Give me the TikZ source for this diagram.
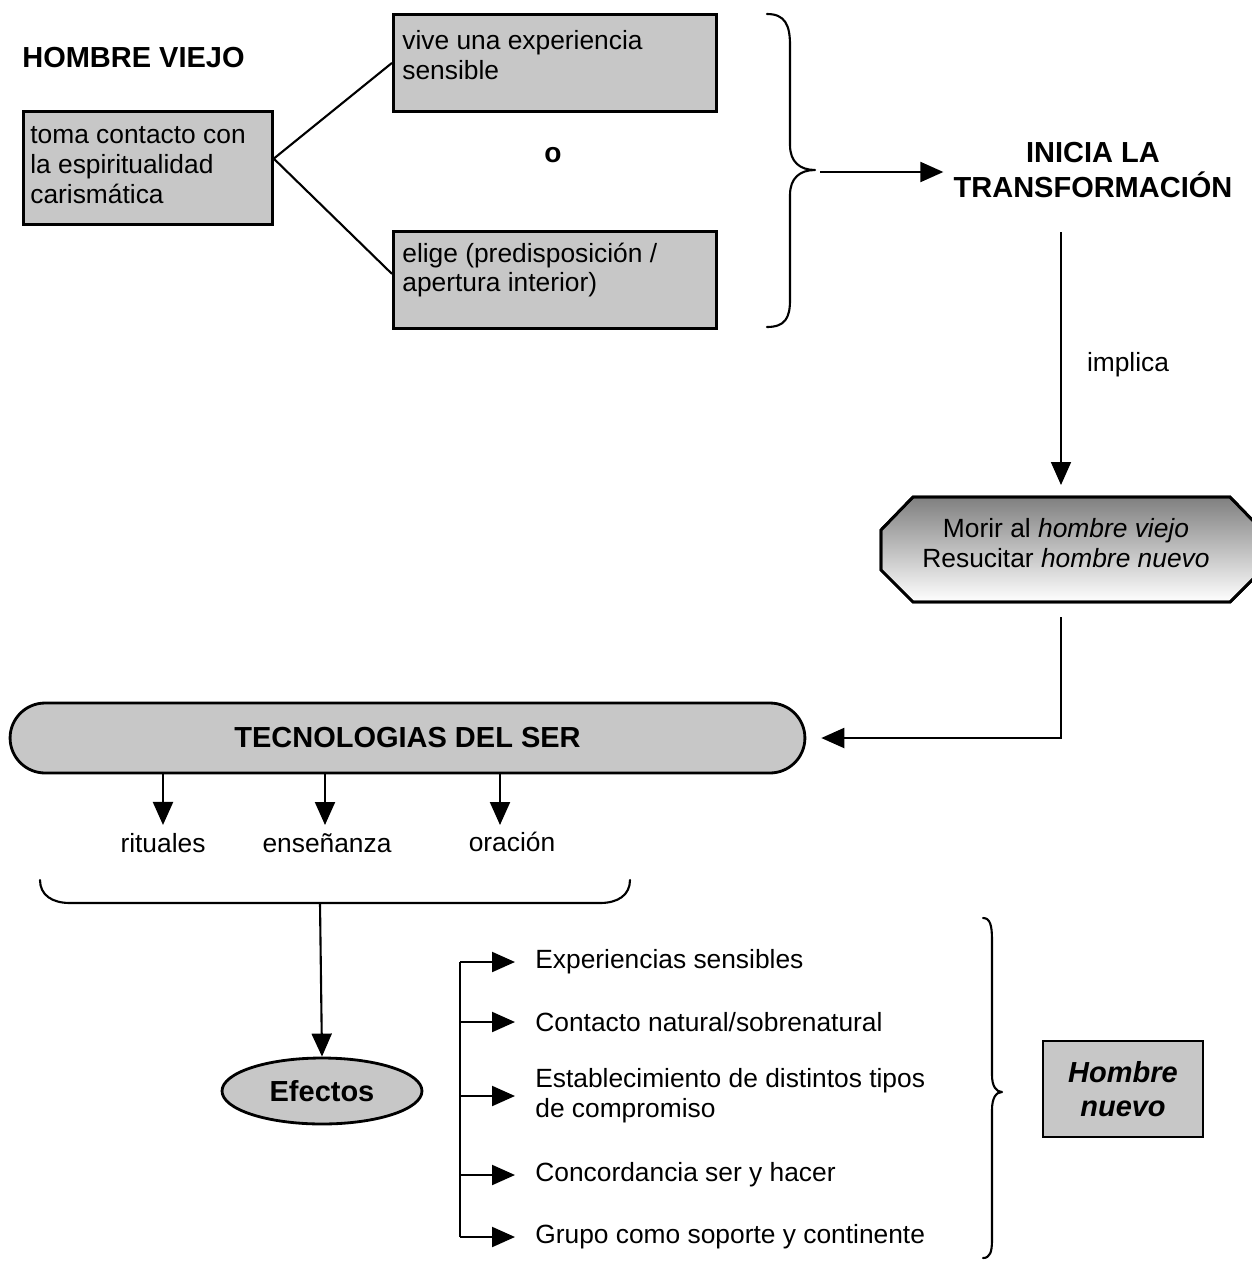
\documentclass[tikz,border=0pt]{standalone}
\usepackage{fontspec}
\setmainfont{Liberation Sans}
\usetikzlibrary{arrows.meta,shapes.geometric,calc}
\definecolor{shade}{gray}{0.78}
\begin{document}
\begin{tikzpicture}[x=0.02cm,y=-0.02cm,
  gbox/.style={draw, line width=1.6pt, fill=shade, inner sep=0pt},
  txt/.style={inner sep=0pt, font=\fontsize{15pt}{17pt}\selectfont, align=left},
  ttl/.style={inner sep=0pt, font=\fontsize{16.5pt}{20pt}\selectfont\bfseries, align=center},
  ln/.style={line width=1.2pt},
  arr/.style={line width=1.2pt, -{Triangle[length=0.46cm,width=0.4cm]}},
  brace/.style={line width=1.2pt, line cap=round, line join=round}]
\useasboundingbox (0,0) rectangle (1251,1261);

% --- upper part: old man and the two paths ---
\node[ttl, anchor=west] (hv) at (22,58) {HOMBRE VIEJO};
\node[gbox, minimum width=4.98cm, minimum height=2.26cm, anchor=north west] (b1) at (22,110) {};
\node[txt, anchor=west] (t1) at (30,165) {toma contacto con\\la espiritualidad\\carismática};

\node[gbox, minimum width=6.46cm, minimum height=1.94cm, anchor=north west] (b2) at (392,13) {};
\node[txt, anchor=west] (t2) at (402,55) {vive una experiencia\\sensible};

\node[gbox, minimum width=6.46cm, minimum height=1.94cm, anchor=north west] (b3) at (392,230) {};
\node[txt, anchor=west] (t3) at (402,270) {elige (predisposición /\\apertura interior)};

\node[txt, font=\fontsize{16pt}{18pt}\selectfont\bfseries] (or) at (553,155) {o};

\coordinate (b1out) at ($(b1.north east)!0.42!(b1.south east)$);
\draw[ln] (b1out) -- (b2.west);
\draw[ln] (b1out) -- ($(b3.north west)!0.44!(b3.south west)$);

% brace gathering both paths
\coordinate (btip) at (815,170);
\draw[brace] (767,14) .. controls (785,14) and (790,25) .. (790,45) -- (790,145)
  .. controls (790,162) and (800,170) .. (btip)
  .. controls (800,170) and (790,178) .. (790,195) -- (790,300)
  .. controls (790,318) and (785,327) .. (767,327);

\node[ttl] (init) at (1093,170) {INICIA LA\\TRANSFORMACIÓN};
\coordinate (bt) at (820,172);
\draw[arr, shorten >=0.2cm] (bt) -- (bt -| init.west);

% --- transformation ---
\draw[shade, fill=shade, line width=1.6pt] (881,530) -- (913,497) -- (1230,497) -- (1262,530)
  -- (1262,570) -- (1230,602) -- (913,602) -- (881,570) -- cycle;
\draw[line width=1.6pt] (1262,530) -- (1230,497) -- (913,497) -- (881,530) -- (881,570)
  -- (913,602) -- (1230,602) -- (1262,570);
\node[txt, align=center] (oct) at (1066,543) {Morir al \textit{hombre viejo}\\Resucitar \textit{hombre nuevo}};
\coordinate (octtop) at (1061,497);
\coordinate (octbot) at (1061,617);

\coordinate (a1) at (1061,232);
\draw[line width=1pt, -{Triangle[length=0.46cm,width=0.4cm]}, shorten >=0.24cm] (a1) -- (octtop);
\node[txt] (imp) at (1128,365) {implica};

% --- technologies of the self ---
\node[gbox, rounded corners=0.7cm, minimum width=15.9cm, minimum height=1.4cm, ttl] (pill) at (407.5,738) {TECNOLOGIAS DEL SER};
\draw[arr, shorten >=0.3cm] (octbot) |- (pill.east);

\node[txt] (rit) at (163,843) {rituales};
\node[txt] (ens) at (327,843) {enseñanza};
\node[txt] (ora) at (512,842) {oración};
\draw[arr, shorten >=0.16cm] (pill.south -| rit.north) -- (rit.north);
\draw[arr, shorten >=0.16cm] (pill.south -| 325,0) -- (325,833);
\draw[arr, shorten >=0.16cm] (pill.south -| 500,0) -- (500,833);

\coordinate (bb) at (320,903);
\draw[brace] (40,880) .. controls (40,895) and (52,903) .. (70,903) -- (bb) -- (600,903)
  .. controls (618,903) and (630,895) .. (630,880);

% --- effects ---
\node[draw, ellipse, fill=shade, line width=1.6pt, minimum width=4cm, minimum height=1.32cm, ttl] (efx) at (322,1091) {Efectos};
\draw[arr] (bb) -- (efx.north);

\node[txt, anchor=west] (e1) at (535,962) {Experiencias sensibles};
\node[txt, anchor=west] (e2) at (535,1022) {Contacto natural/sobrenatural};
\node[txt, anchor=west] (e3) at (535,1096) {Establecimiento de distintos tipos\\de compromiso};
\node[txt, anchor=west] (e4) at (535,1175) {Concordancia ser y hacer};
\node[txt, anchor=west] (e5) at (535,1237) {Grupo como soporte y continente};

\coordinate (tr) at (460,962);
\draw[ln] (e1.west -| tr) -- (e5.west -| tr);
\foreach \e in {e1,e2,e3,e4,e5}
  \draw[arr, shorten >=0.4cm] (\e.west -| tr) -- (\e.west);

\draw[brace] (983,918) .. controls (990,918) and (992,925) .. (992,940) -- (992,1075)
  .. controls (992,1086) and (996,1092) .. (1002,1092)
  .. controls (996,1092) and (992,1098) .. (992,1110) -- (992,1240)
  .. controls (992,1252) and (990,1258) .. (983,1258);

\node[gbox, minimum width=3.2cm, minimum height=1.92cm, align=center,
  font=\fontsize{16.5pt}{19.3pt}\selectfont\bfseries\itshape] (hn) at (1123,1089) {Hombre\\nuevo};
\end{tikzpicture}
\end{document}
